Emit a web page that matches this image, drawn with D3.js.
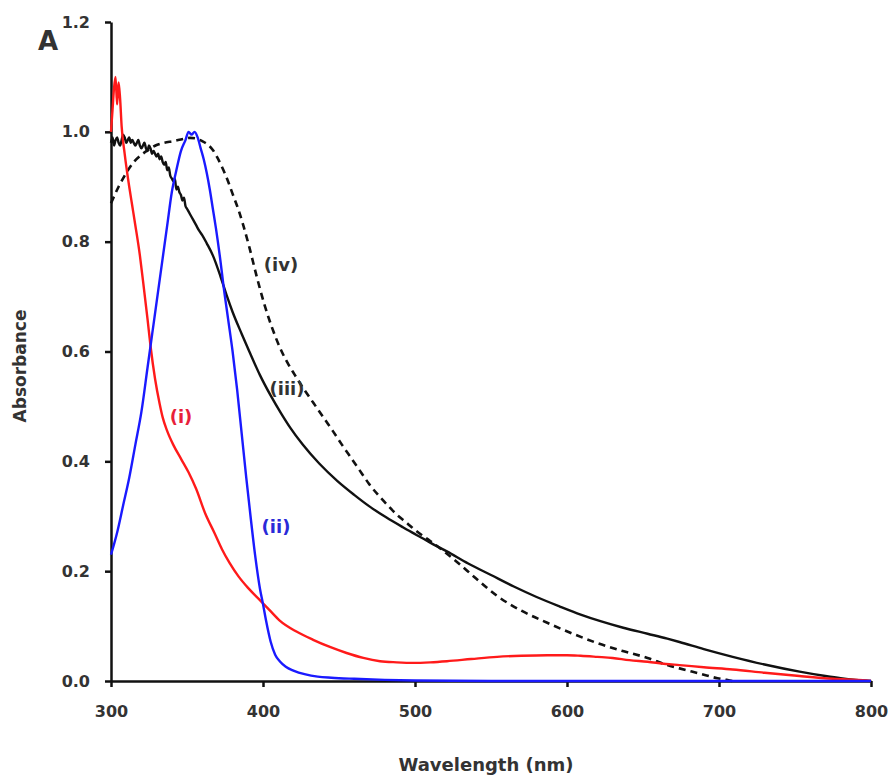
<!DOCTYPE html>
<html>
<head>
<meta charset="utf-8">
<script src="https://cdn.jsdelivr.net/npm/d3@7/dist/d3.min.js"></script>
<style>
  html, body { margin: 0; padding: 0; background: #fff; }
  svg { display: block; }
  .axis text { font-family: "DejaVu Sans", sans-serif; font-weight: bold; font-size: 16px; fill: #333; }
  .axis path, .axis line { stroke: #111; stroke-width: 2.5px; }
</style>
</head>
<body>
<svg id="chart" width="895" height="780"></svg>
<script>
// Absorption spectra, four samples (i)–(iv)

// (i) red
const wlI = [300, 301, 302, 303, 304, 305, 306, 307, 309, 312, 314, 316, 319, 321, 324, 326, 329, 332, 334, 337, 341, 346, 351, 356, 362, 368, 373, 378, 384, 390, 397, 404, 411, 422, 433, 444, 455, 466, 477, 488, 499, 510, 521, 537, 554, 570, 587, 600, 609, 620, 630, 641, 653, 665, 674, 690, 709, 730, 753, 775, 797, 800];
const absI = [1.00, 1.04, 1.08, 1.10, 1.05, 1.09, 1.06, 1.01, 0.96, 0.90, 0.865, 0.83, 0.775, 0.73, 0.66, 0.61, 0.55, 0.505, 0.48, 0.455, 0.43, 0.405, 0.38, 0.35, 0.305, 0.27, 0.24, 0.215, 0.19, 0.17, 0.15, 0.13, 0.11, 0.09, 0.075, 0.062, 0.051, 0.042, 0.036, 0.034, 0.033, 0.034, 0.036, 0.040, 0.044, 0.046, 0.047, 0.047, 0.046, 0.044, 0.042, 0.038, 0.035, 0.031, 0.029, 0.025, 0.021, 0.015, 0.009, 0.004, 0.001, 0.0];

// (ii) blue
const wlII = [300, 304, 308, 312, 316, 320, 324, 326, 328, 331, 334, 337, 340, 343, 346, 349, 351, 353, 355, 357, 359, 361, 363, 365, 367, 369, 372, 374, 377, 380, 383, 386, 389, 392, 395, 398, 400, 402, 405, 408, 411, 415, 420, 428, 436, 445, 460, 480, 500, 550, 600, 700, 800];
const absII = [0.23, 0.27, 0.32, 0.37, 0.43, 0.49, 0.57, 0.61, 0.65, 0.71, 0.77, 0.83, 0.89, 0.93, 0.965, 0.985, 1.0, 0.995, 1.0, 0.99, 0.97, 0.95, 0.925, 0.895, 0.86, 0.825, 0.765, 0.72, 0.66, 0.60, 0.53, 0.45, 0.37, 0.295, 0.225, 0.168, 0.14, 0.11, 0.072, 0.048, 0.036, 0.026, 0.019, 0.012, 0.008, 0.006, 0.004, 0.002, 0.001, 0, 0, 0, 0];

// (iii) black, solid
const wlIII = [300, 301, 302, 303, 304, 305, 306, 307, 308, 309, 310, 311, 312, 313, 314, 315, 316, 317, 318, 319, 320, 321, 322, 323, 324, 325, 326, 327, 328, 329, 330, 331, 332, 333, 334, 335, 336, 337, 338, 339, 340, 341, 342, 343, 344, 345, 346, 347, 348, 349, 350, 352, 354, 356, 358, 360, 363, 367, 372, 376, 380, 386, 391, 398, 405, 412, 418, 426, 437, 449, 460, 470, 481, 492, 501, 510, 521, 535, 550, 565, 580, 595, 609, 622, 637, 653, 666, 674, 690, 709, 730, 753, 770, 780, 790, 800];
const absIII = [0.98, 0.99, 0.975, 0.985, 0.99, 0.98, 0.975, 0.985, 0.995, 0.99, 0.98, 0.985, 0.99, 0.98, 0.985, 0.98, 0.975, 0.98, 0.985, 0.975, 0.97, 0.975, 0.98, 0.97, 0.965, 0.975, 0.97, 0.96, 0.965, 0.96, 0.955, 0.96, 0.95, 0.955, 0.945, 0.94, 0.945, 0.93, 0.935, 0.92, 0.915, 0.91, 0.915, 0.895, 0.90, 0.89, 0.885, 0.875, 0.88, 0.865, 0.86, 0.85, 0.84, 0.83, 0.82, 0.812, 0.797, 0.775, 0.737, 0.703, 0.672, 0.632, 0.60, 0.557, 0.52, 0.487, 0.461, 0.431, 0.396, 0.364, 0.339, 0.318, 0.298, 0.28, 0.266, 0.252, 0.236, 0.214, 0.193, 0.172, 0.153, 0.136, 0.121, 0.109, 0.097, 0.086, 0.077, 0.071, 0.058, 0.044, 0.03, 0.017, 0.009, 0.005, 0.002, 0.0];

// (iv) black, dashed
const wlIV = [300, 305, 310, 315, 320, 325, 330, 335, 341, 346, 352, 356, 360, 364, 367, 370, 374, 377, 380, 384, 387, 391, 396, 401, 406, 411, 416, 421, 426, 431, 436, 441, 446, 452, 459, 465, 470, 476, 482, 488, 495, 500, 510, 520, 528, 540, 554, 570, 587, 603, 620, 636, 653, 666, 674, 688, 699, 705, 709];
const absIV = [0.87, 0.90, 0.925, 0.945, 0.958, 0.968, 0.976, 0.98, 0.983, 0.986, 0.989, 0.988, 0.983, 0.976, 0.967, 0.953, 0.93, 0.91, 0.887, 0.857, 0.83, 0.79, 0.735, 0.685, 0.643, 0.608, 0.58, 0.557, 0.535, 0.515, 0.495, 0.475, 0.455, 0.43, 0.402, 0.378, 0.358, 0.338, 0.32, 0.303, 0.287, 0.275, 0.255, 0.234, 0.216, 0.187, 0.155, 0.128, 0.106, 0.087, 0.069, 0.055, 0.042, 0.029, 0.023, 0.013, 0.005, 0.002, 0];

const xTicks = [300, 400, 500, 600, 700, 800];
const yTicks = [0.0, 0.2, 0.4, 0.6, 0.8, 1.0, 1.2];

const svg = d3.select("#chart");
const plotLeft = 111, plotRight = 871, plotTop = 22, plotBottom = 681;

const x = d3.scaleLinear().domain([300, 800]).range([plotLeft, plotRight]);
const y = d3.scaleLinear().domain([0, 1.2]).range([plotBottom, plotTop]);

// axes
svg.append("g")
  .attr("class", "axis")
  .attr("transform", `translate(0,${plotBottom})`)
  .call(d3.axisBottom(x).tickValues(xTicks).tickSize(6).tickSizeOuter(0).tickPadding(19).tickFormat(d3.format("d")));

svg.append("g")
  .attr("class", "axis")
  .attr("transform", `translate(${plotLeft},0)`)
  .call(d3.axisLeft(y).tickValues(yTicks).tickSize(6).tickSizeOuter(0).tickPadding(15).tickFormat(d3.format(".1f")));

// spectra
const line = d3.line()
  .x(d => x(d[0]))
  .y(d => y(d[1]))
  .curve(d3.curveMonotoneX);

const series = [
  { wl: wlIV, ab: absIV, color: "#111", dash: "7,5", width: 2.6 },
  { wl: wlIII, ab: absIII, color: "#111", dash: null, width: 2.4 },
  { wl: wlI, ab: absI, color: "#ff1a1a", dash: null, width: 2.4 },
  { wl: wlII, ab: absII, color: "#1a1aff", dash: null, width: 2.4 }
];

series.forEach(s => {
  svg.append("path")
    .datum(d3.zip(s.wl, s.ab))
    .attr("fill", "none")
    .attr("stroke", s.color)
    .attr("stroke-width", s.width)
    .attr("stroke-dasharray", s.dash)
    .attr("stroke-linejoin", "round")
    .attr("d", line);
});

// curve labels
const labels = [
  { text: "(i)", x: 181, y: 423, color: "#e8203a" },
  { text: "(ii)", x: 276, y: 533, color: "#2a2ad8" },
  { text: "(iii)", x: 287, y: 395, color: "#333" },
  { text: "(iv)", x: 281, y: 271, color: "#333" }
];
svg.selectAll("text.curve-label")
  .data(labels)
  .enter().append("text")
  .attr("class", "curve-label")
  .attr("x", d => d.x)
  .attr("y", d => d.y)
  .attr("text-anchor", "middle")
  .attr("fill", d => d.color)
  .style("font-family", "DejaVu Sans, sans-serif")
  .style("font-weight", "bold")
  .style("font-size", "18px")
  .text(d => d.text);

// axis titles and panel letter
svg.append("text")
  .attr("x", 486).attr("y", 771)
  .attr("text-anchor", "middle")
  .attr("fill", "#333")
  .style("font-family", "DejaVu Sans, sans-serif")
  .style("font-weight", "bold")
  .style("font-size", "18px")
  .text("Wavelength (nm)");

svg.append("text")
  .attr("transform", "translate(26,366) rotate(-90)")
  .attr("text-anchor", "middle")
  .attr("fill", "#333")
  .style("font-family", "DejaVu Sans, sans-serif")
  .style("font-weight", "bold")
  .style("font-size", "17px")
  .text("Absorbance");

svg.append("text")
  .attr("x", 38).attr("y", 50)
  .attr("fill", "#333")
  .style("font-family", "DejaVu Sans, sans-serif")
  .style("font-weight", "bold")
  .style("font-size", "26px")
  .text("A");
</script>
</body>
</html>
